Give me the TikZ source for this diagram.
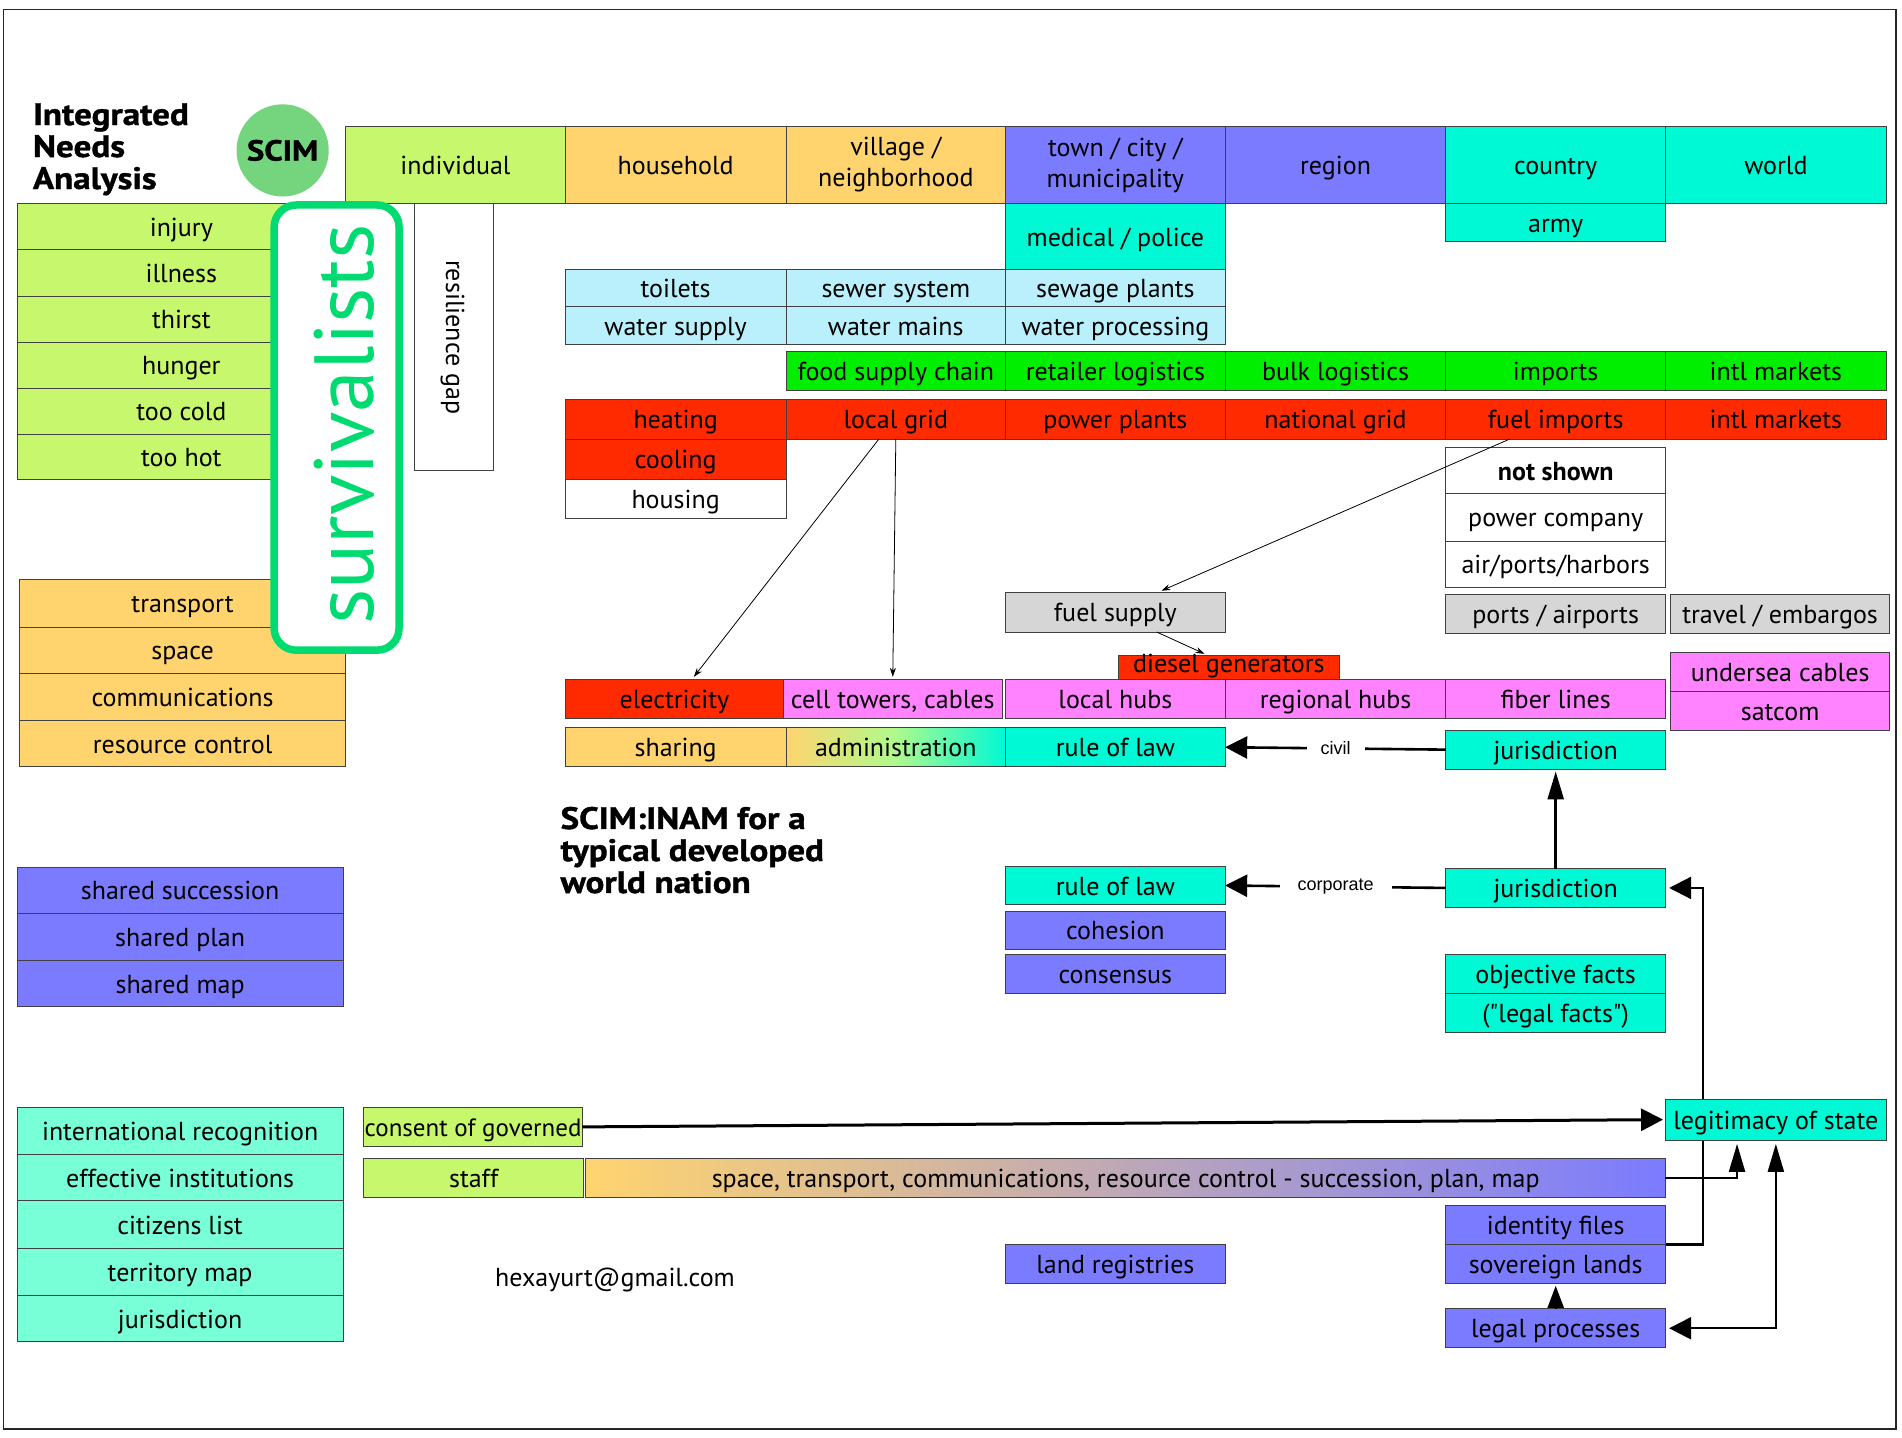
\documentclass[tikz,border=0pt]{standalone}
\usepackage{fontspec}
\setmainfont{PT Sans}
\newfontfamily\arialfont{Liberation Sans}
\newfontfamily\heavyfont[FakeStretch=1.13,FakeBold=1.2]{PT Sans}
\usetikzlibrary{arrows.meta,calc,backgrounds}
\definecolor{cLime}{HTML}{C6F76C}
\definecolor{cOrng}{HTML}{FFD46F}
\definecolor{cVio}{HTML}{7B7BFF}
\definecolor{cCyn}{HTML}{00F9D5}
\definecolor{cAqua}{HTML}{79FFD8}
\definecolor{cWat}{HTML}{B9F0FB}
\definecolor{cGrn}{HTML}{00EF00}
\definecolor{cRed}{HTML}{FF2A00}
\definecolor{cPnk}{HTML}{FF82FF}
\definecolor{cGry}{HTML}{D6D6D6}
\definecolor{cScim}{HTML}{75D47E}
\definecolor{cSurv}{HTML}{00DB71}
\newcommand\bxfont{\fontsize{26}{31}\selectfont}
\newcommand\mybx[7]{\node[bx,#6,minimum width={(#4-#2)*1.213pt},minimum height={(#5-#3)*1.213pt}] (#1) at ({(#2+#4)/2},{(#3+#5)/2}) {#7};}
\begin{document}
\begin{tikzpicture}[x=1.213pt,y=-1.213pt,
  bx/.style={draw=black!75, line width=0.9pt, inner sep=0pt, outer sep=0pt, font=\bxfont, align=center, text=black, text height=21pt, text depth=2pt},
  twoline/.style={text height=, text depth=},
  thinarrow/.style={draw=black, line width=0.8pt, -{Stealth[length=9pt,width=6pt]}},
  hbig/.style={draw=black, line width=2.6pt, -{Triangle[length=22pt,width=22pt]}},
  vbig/.style={draw=black, line width=2.6pt, -{Triangle[length=28pt,width=16pt]}},
  conn/.style={draw=black, line width=2.2pt},
  lbl/.style={fill=white, font=\arialfont\fontsize{18}{20}\selectfont, inner ysep=2pt},
  titlefont/.style={font=\heavyfont\bfseries\fontsize{31}{32}\selectfont, align=left, anchor=north west, inner sep=0pt}
]
\useasboundingbox (0,0) rectangle (1568,1185);
\draw[line width=1.4pt, black!85] (3,8) rectangle (1563,1178);

% title
\node[titlefont] (title) at (27,85) {Integrated\\Needs\\Analysis};
\node[circle, fill=cScim, minimum size={76*1.213pt}, inner sep=0pt, font=\heavyfont\bfseries\fontsize{29}{32}\selectfont] (scim) at (233,124) {SCIM};

% top row
\mybx{ind}{285}{104}{466}{168}{fill=cLime}{individual}
\mybx{hh}{466}{104}{648}{168}{fill=cOrng}{household}
\mybx{vil}{648}{104}{829}{168}{fill=cOrng,twoline}{village /\\neighborhood}
\mybx{town}{829}{104}{1010}{168}{fill=cVio,twoline}{town / city /\\municipality}
\mybx{reg}{1010}{104}{1192}{168}{fill=cVio}{region}
\mybx{cty}{1192}{104}{1373}{168}{fill=cCyn}{country}
\mybx{wld}{1373}{104}{1555}{168}{fill=cCyn}{world}
\mybx{med}{829}{168}{1010}{222}{fill=cCyn}{medical / police}
\mybx{army}{1192}{168}{1373}{199}{fill=cCyn}{army}

% left column needs
\mybx{inj}{14}{168}{285}{206}{fill=cLime}{injury}
\mybx{ill}{14}{206}{285}{244}{fill=cLime}{illness}
\mybx{thi}{14}{244}{285}{282}{fill=cLime}{thirst}
\mybx{hun}{14}{282}{285}{320}{fill=cLime}{hunger}
\mybx{cold}{14}{320}{285}{358}{fill=cLime}{too cold}
\mybx{hot}{14}{358}{285}{395}{fill=cLime}{too hot}

\mybx{tra}{16}{478}{285}{517}{fill=cOrng}{transport}
\mybx{spa}{16}{517}{285}{555}{fill=cOrng}{space}
\mybx{com}{16}{555}{285}{594}{fill=cOrng}{communications}
\mybx{rc}{16}{594}{285}{632}{fill=cOrng}{resource control}

\mybx{ssu}{14}{715}{283}{753}{fill=cVio}{shared succession}
\mybx{spl}{14}{753}{283}{792}{fill=cVio}{shared plan}
\mybx{sma}{14}{792}{283}{830}{fill=cVio}{shared map}

\mybx{irec}{14}{913}{283}{952}{fill=cAqua}{international recognition}
\mybx{einst}{14}{952}{283}{990}{fill=cAqua}{effective institutions}
\mybx{cit}{14}{990}{283}{1029}{fill=cAqua}{citizens list}
\mybx{terr}{14}{1029}{283}{1068}{fill=cAqua}{territory map}
\mybx{jurl}{14}{1068}{283}{1106}{fill=cAqua}{jurisdiction}

% survivalists box
\draw[cSurv, line width=7.5pt, fill=white, rounded corners=22pt] (226,169) rectangle (329,536);
\node[rotate=90, text=cSurv, font=\fontsize{84}{84}\selectfont, inner sep=0pt] (surv) at (284,350) {survivalists};
\mybx{res}{342}{168}{407}{388}{fill=white}{}
\node[rotate=-90, font=\bxfont, inner sep=0pt] (resl) at (373,278) {resilience gap};

% water
\mybx{toil}{466}{222}{648}{253}{fill=cWat}{toilets}
\mybx{sewer}{648}{222}{829}{253}{fill=cWat}{sewer system}
\mybx{sewp}{829}{222}{1010}{253}{fill=cWat}{sewage plants}
\mybx{wsup}{466}{253}{648}{284}{fill=cWat}{water supply}
\mybx{wmain}{648}{253}{829}{284}{fill=cWat}{water mains}
\mybx{wproc}{829}{253}{1010}{284}{fill=cWat}{water processing}

% food
\mybx{food}{648}{290}{829}{322}{fill=cGrn}{food supply chain}
\mybx{retl}{829}{290}{1010}{322}{fill=cGrn}{retailer logistics}
\mybx{bulk}{1010}{290}{1192}{322}{fill=cGrn}{bulk logistics}
\mybx{imp}{1192}{290}{1373}{322}{fill=cGrn}{imports}
\mybx{intlf}{1373}{290}{1555}{322}{fill=cGrn}{intl markets}

% energy
\mybx{heat}{466}{329}{648}{362}{fill=cRed}{heating}
\mybx{lg}{648}{329}{829}{362}{fill=cRed}{local grid}
\mybx{pp}{829}{329}{1010}{362}{fill=cRed}{power plants}
\mybx{ng}{1010}{329}{1192}{362}{fill=cRed}{national grid}
\mybx{fi}{1192}{329}{1373}{362}{fill=cRed}{fuel imports}
\mybx{intle}{1373}{329}{1555}{362}{fill=cRed}{intl markets}
\mybx{cool}{466}{362}{648}{395}{fill=cRed}{cooling}
\mybx{hous}{466}{395}{648}{427}{fill=white}{housing}

% not shown
\mybx{ns}{1192}{369}{1373}{407}{fill=white}{\textbf{not shown}}
\mybx{pc}{1192}{407}{1373}{446}{fill=white}{power company}
\mybx{aph}{1192}{446}{1373}{484}{fill=white}{air/ports/harbors}
\mybx{pa}{1192}{490}{1373}{522}{fill=cGry}{ports / airports}
\mybx{te}{1377}{490}{1558}{522}{fill=cGry}{travel / embargos}
\mybx{fs}{829}{488}{1010}{521}{fill=cGry}{fuel supply}
\mybx{dg}{922}{540}{1104}{560}{fill=cRed,text height=14pt,text depth=4pt}{diesel generators}

% comms
\mybx{elec}{466}{560}{646}{592}{fill=cRed}{electricity}
\mybx{cell}{646}{560}{826}{592}{fill=cPnk}{cell towers, cables}
\mybx{lh}{829}{560}{1010}{592}{fill=cPnk}{local hubs}
\mybx{rh}{1010}{560}{1192}{592}{fill=cPnk}{regional hubs}
\mybx{fl}{1192}{560}{1373}{592}{fill=cPnk}{fiber lines}
\mybx{us}{1377}{538}{1558}{570}{fill=cPnk}{undersea cables}
\mybx{sat}{1377}{570}{1558}{602}{fill=cPnk}{satcom}

% governance
\mybx{share}{466}{600}{648}{632}{fill=cOrng}{sharing}
\mybx{adm}{648}{600}{829}{632}{left color=cOrng, right color=cCyn, middle color=cLime!70!cAqua}{administration}
\mybx{rol1}{829}{600}{1010}{632}{fill=cCyn}{rule of law}
\mybx{jur1}{1192}{602}{1373}{634}{fill=cCyn}{jurisdiction}
\mybx{rol2}{829}{714}{1010}{746}{fill=cCyn}{rule of law}
\mybx{jur2}{1192}{716}{1373}{748}{fill=cCyn}{jurisdiction}
\mybx{coh}{829}{751}{1010}{783}{fill=cVio}{cohesion}
\mybx{cons}{829}{787}{1010}{819}{fill=cVio}{consensus}
\mybx{of}{1192}{787}{1373}{819}{fill=cCyn}{objective facts}
\mybx{lf}{1192}{819}{1373}{851}{fill=cCyn}{(\textquotedbl legal facts\textquotedbl)}

\node[titlefont] (inam) at (462,665) {SCIM:INAM for a\\typical developed\\world nation};

% bottom
\mybx{legit}{1373}{906}{1555}{940}{fill=cCyn}{legitimacy of state}
\mybx{cg}{300}{913}{480}{945}{fill=cLime}{\fontsize{25}{30}\selectfont consent of governed}
\mybx{staff}{300}{955}{481}{987}{fill=cLime}{staff}
\mybx{bar}{483}{955}{1373}{987}{left color=cOrng, right color=cVio}{space, transport, communications, resource control - succession, plan, map}
\mybx{idf}{1192}{994}{1373}{1026}{fill=cVio}{identity files}
\mybx{sov}{1192}{1026}{1373}{1058}{fill=cVio}{sovereign lands}
\mybx{lp}{1192}{1079}{1373}{1111}{fill=cVio}{legal processes}
\mybx{lr}{829}{1026}{1010}{1058}{fill=cVio}{land registries}
\node[font=\bxfont, inner sep=0pt] (mail) at (507,1055) {hexayurt@gmail.com};

% thin connectors
\draw[thinarrow] ($(lg.south)+(-14,0)$) -- ($(elec.north)+(16,-2)$);
\draw[thinarrow] (lg.south) -- ($(cell.north)+(0,-2)$);
\draw[thinarrow] ($(fi.south)+(-38,0)$) -- ($(fs.north)+(38,-1)$);
\draw[thinarrow] ($(fs.south)+(34,0)$) -- ($(dg.north)+(-20,-1)$);

% thick connectors
\draw[hbig] (jur1.west) -- node[lbl, inner xsep=14pt] {civil} (rol1.east);
\draw[hbig] (jur2.west) -- node[lbl, inner xsep=18pt] {corporate} (rol2.east);
\draw[vbig] (jur2.north) -- ($(jur1.south)+(0,2)$);
\draw[hbig, line width=3pt] (cg.east) -- ($(legit.west)+(-2,0)$);
\begin{scope}[on background layer]
\draw[conn, -{Triangle[length=22pt,width=22pt]}] (idf.south east) -- ++(31,0) |- ($(jur2.east)+(3,0)$);
\end{scope}
\draw[conn, -{Triangle[length=28pt,width=16pt]}] (bar.east) -| ($(legit.south)+(-32,3)$);
\draw[conn, {Triangle[length=22pt,width=22pt]}-{Triangle[length=28pt,width=16pt]}] ($(lp.east)+(3,0)$) -| ($(legit.south)+(0,3)$);
\draw[conn, -{Triangle[length=22pt,width=16pt]}] (lp.north) -- ($(sov.south)+(0,2)$);
\end{tikzpicture}
\end{document}
